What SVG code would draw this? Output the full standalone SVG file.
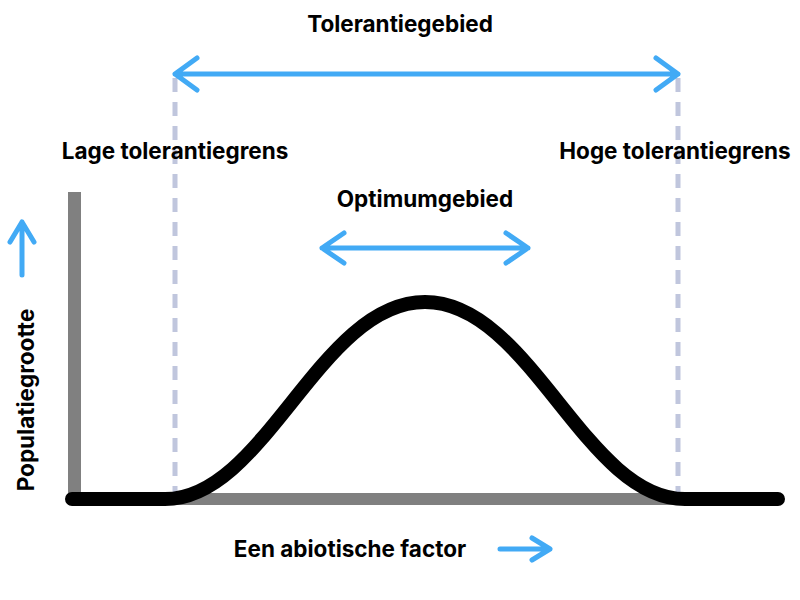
<svg xmlns="http://www.w3.org/2000/svg" width="800" height="600" viewBox="0 0 800 600">
<style>
text{font-family:Inter,"Liberation Sans",sans-serif;font-weight:bold;font-size:22.5px;fill:#000;text-anchor:middle}
.arr{stroke:#42aaf5;stroke-width:5;fill:none;stroke-linecap:round;stroke-linejoin:round}
.dash{stroke:#c0c6dd;stroke-width:5;stroke-dasharray:14 10;fill:none}
</style>
<rect width="800" height="600" fill="#fff"/>
<g id="axes">
<rect x="68" y="192" width="13" height="313" fill="#808080"/>
<rect x="68" y="493" width="712" height="12" fill="#808080"/>
</g>
<g id="limits">
<line class="dash" x1="175" y1="78" x2="175" y2="495"/>
<line class="dash" x1="678" y1="78" x2="678" y2="495"/>
</g>
<g id="curve">
<path d="M72,499 L165,499 C265,499 320,302 425,302 C530,302 585,499 685,499 L778,499" stroke="#000" stroke-width="14" fill="none" stroke-linecap="round"/>
</g>
<g id="connectors">
<path class="arr" d="M175,74 H678 M197,58 L175,74 L197,90 M656,58 L678,74 L656,90"/>
<path class="arr" d="M322,248 H528 M344,233 L322,248 L344,263 M506,233 L528,248 L506,263"/>
<path class="arr" d="M22,275 V222 M10,242 L22,222 L34,242"/>
<path class="arr" d="M500,549 H550 M532,538 L550,549 L532,560"/>
</g>
<g id="labels">
<text x="400" y="32">Tolerantiegebied</text>
<text x="175" y="159">Lage tolerantiegrens</text>
<text x="675" y="159">Hoge tolerantiegrens</text>
<text x="425" y="207">Optimumgebied</text>
<text x="350" y="557">Een abiotische factor</text>
<text transform="translate(34,400) rotate(-90)">Populatiegrootte</text>
</g>
</svg>
